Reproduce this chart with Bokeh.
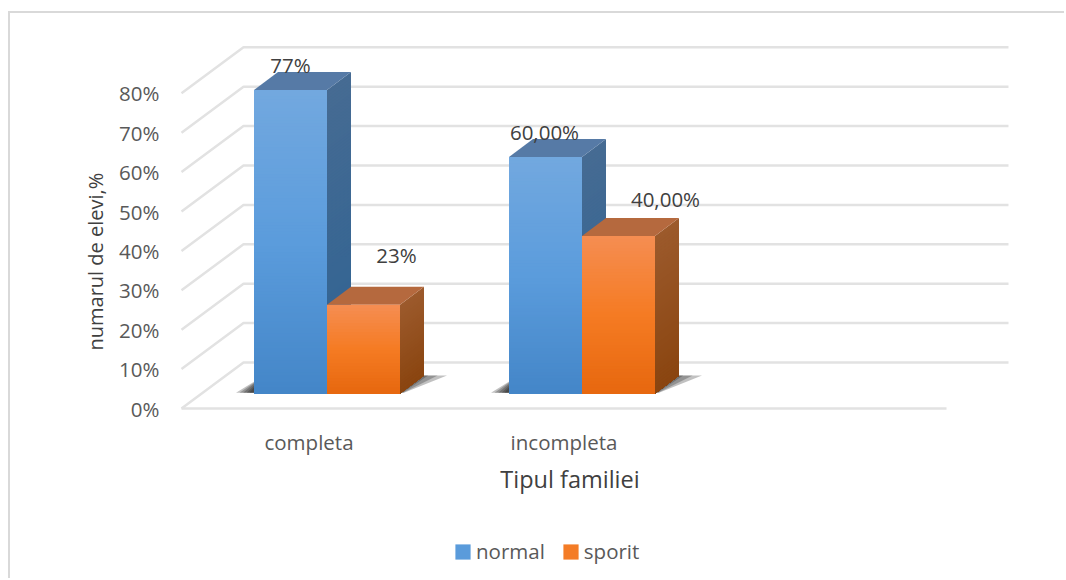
import numpy as np
from bokeh.plotting import figure
from bokeh.models import (FixedTicker, Legend, LegendItem, Range1d, Title)
from bokeh.core.properties import value
from bokeh.embed import file_html
from bokeh.resources import INLINE

# ---- data ----
categories = ["completa", "incompleta"]
n_slots = 3
normal = [77, 60]
sporit = [22.5, 40]
normal_labels = ["77%", "60,00%"]
sporit_labels = ["23%", "40,00%"]
y_ticks = [0, 10, 20, 30, 40, 50, 60, 70, 80]
y_tick_labels = ["0%", "10%", "20%", "30%", "40%", "50%", "60%", "70%", "80%"]
series_names = ["normal", "sporit"]
x_title = "Tipul familiei"
y_title = "numarul de elevi,%"

# ---- scale geometry ----
PX_X = 255.0   # px per category
PX_Y = 3.94    # px per percent
FONT = value("Open Sans")
WIDTH, HEIGHT = 1056, 567
LEFT = 169              # frame's left edge inside the figure
FLOOR = 395             # px from the figure's top to the value 0

x_start = -2 / PX_X
x_end = x_start + (WIDTH - LEFT) / PX_X
y_end = FLOOR / PX_Y
y_start = y_end - HEIGHT / PX_Y

p = figure(width=WIDTH, height=HEIGHT, output_backend="svg", toolbar_location=None,
           x_range=Range1d(x_start, x_end), y_range=Range1d(y_start, y_end),
           x_axis_location=None,
           min_border_left=LEFT, min_border_bottom=0, min_border_top=0, min_border_right=0,
           outline_line_color=None, background_fill_color="white", border_fill_color="white",
           margin=(11, 0, 0, 8))
p.styles = {"border-top": "2px solid #d9d9d9", "border-left": "2px solid #d9d9d9"}
p.grid.visible = False

# ---- value axis ----
ay = p.yaxis[0]
ay.ticker = FixedTicker(ticks=y_ticks)
ay.major_label_overrides = dict(zip(y_ticks, y_tick_labels))
ay.axis_line_color = None
ay.major_tick_line_color = None
ay.minor_tick_line_color = None
ay.major_label_text_font = "Open Sans"
ay.major_label_text_font_size = "20.5px"
ay.major_label_text_color = "#595959"
ay.major_label_standoff = 14

p.add_layout(Title(text=y_title, align="left", offset=230, standoff=16,
                   text_font="Open Sans", text_font_size="20px", text_font_style="normal",
                   text_color="#404040"), "left")

# ---- wall and floor ----
wall_dx = 62 / PX_X
wall_dy = 46 / PX_Y
grid = "#e2e2e2"
for t in y_ticks:
    p.line([0, wall_dx, n_slots + wall_dx], [t, t + wall_dy, t + wall_dy],
           line_color=grid, line_width=2.5)
p.line([0, n_slots], [y_ticks[0], y_ticks[0]], line_color=grid, line_width=2.5)

# ---- category labels and category title ----
p.text(x=[i + 0.5 for i in range(len(categories))], y=[y_ticks[0]] * len(categories),
       text=categories, y_offset=33, text_font=FONT, text_font_size="20.5px",
       text_color="#595959", text_align="center", text_baseline="middle")
p.text(x=[n_slots / 2], y=[y_ticks[0]], text=[x_title], x_offset=6, y_offset=70,
       text_font=FONT, text_font_size="23.5px", text_color="#404040",
       text_align="center", text_baseline="middle")

# ---- 3D bars ----
bar_w = 73 / PX_X
bar_off = 18 / PX_X - bar_w + 0.5
base = 15 / PX_Y
depth_x = 24 / PX_X
depth_y = 18 / PX_Y


def hex2rgb(h):
    return np.array([int(h[i:i + 2], 16) for i in (1, 3, 5)], float)


def ramp(stops, n):
    t = np.linspace(0, 1, n)
    pos = np.linspace(0, 1, len(stops))
    arr = np.array([hex2rgb(s) for s in stops])
    return ["#%02x%02x%02x" % tuple(int(round(np.interp(v, pos, arr[:, c]))) for c in range(3)) for v in t]


STYLE = {
    "normal": dict(front=["#72a8df", "#5b9cdc", "#4486c8"], side=["#466b93", "#2f6393"], top="#567aa6", swatch="#5a9bdb"),
    "sporit": dict(front=["#f58d51", "#f57b23", "#e7680f"], side=["#9c5a2c", "#8a4510"], top="#b5693e", swatch="#f47c26"),
}


def draw_bar(x0, v, st):
    n = max(int(v * PX_Y / 3), 2)
    edges = np.linspace(base + v, base, n + 1)
    front = ramp(st["front"], n)
    side = ramp(st["side"], n)
    x1 = x0 + bar_w
    # every strip reaches down to the base and the next one paints over it: no seams
    p.patches([[x1, x1 + depth_x, x1 + depth_x, x1] for _ in range(n)],
              [[edges[i], edges[i] + depth_y, base + depth_y, base] for i in range(n)],
              fill_color=side, line_color=None)
    p.patch([x0, x0 + depth_x, x1 + depth_x, x1],
            [base + v, base + v + depth_y, base + v + depth_y, base + v],
            fill_color=st["top"], line_color=None)
    p.quad(left=x0, right=x1, top=edges[:-1], bottom=base,
           fill_color=front, line_color=None)


for i in range(len(categories)):
    x0 = i + bar_off
    xr = x0 + 2 * bar_w
    # soft shadow on the floor
    for s in (1.0, 0.8, 0.6, 0.4, 0.25):
        p.patch([x0 - 18 * s / PX_X, xr + 4 * s / PX_X, xr + 47 * s / PX_X, x0 + 10 / PX_X],
                [base + 0.2, base + 0.2, base + depth_y, base + depth_y],
                fill_color="#1a1a1a", fill_alpha=0.27, line_color=None)
    draw_bar(x0, normal[i], STYLE["normal"])
    draw_bar(x0 + bar_w, sporit[i], STYLE["sporit"])

# ---- data labels ----
label_x = [i + bar_off + bar_w / 2 for i in range(len(categories))] + \
          [i + bar_off + 1.5 * bar_w for i in range(len(categories))]
label_y = [base + v for v in normal] + [base + v for v in sporit]
label_t = normal_labels + sporit_labels
label_dx = [0, -1, 33, 47]
label_dy = [-25, -25, -50, -37]
p.text(x=label_x, y=label_y, text=label_t, x_offset=label_dx, y_offset=label_dy,
       text_font=FONT, text_font_size="20.5px", text_color="#404040",
       text_align="center", text_baseline="middle")

# ---- legend ----
r1 = p.quad(left=[0], right=[0], top=[0], bottom=[0], fill_color=STYLE["normal"]["swatch"], line_color=None)
r2 = p.quad(left=[0], right=[0], top=[0], bottom=[0], fill_color=STYLE["sporit"]["swatch"], line_color=None)
legend = Legend(items=[LegendItem(label=series_names[0], renderers=[r1]),
                       LegendItem(label=series_names[1], renderers=[r2])],
                orientation="horizontal", location=(274, 15),
                border_line_color=None, background_fill_alpha=0,
                padding=0, margin=0, spacing=16, label_standoff=4,
                glyph_width=19, glyph_height=19,
                label_text_font="Open Sans", label_text_font_size="20.5px",
                label_text_color="#595959")
p.add_layout(legend)

open("out.html", "w").write(file_html(p, INLINE))
